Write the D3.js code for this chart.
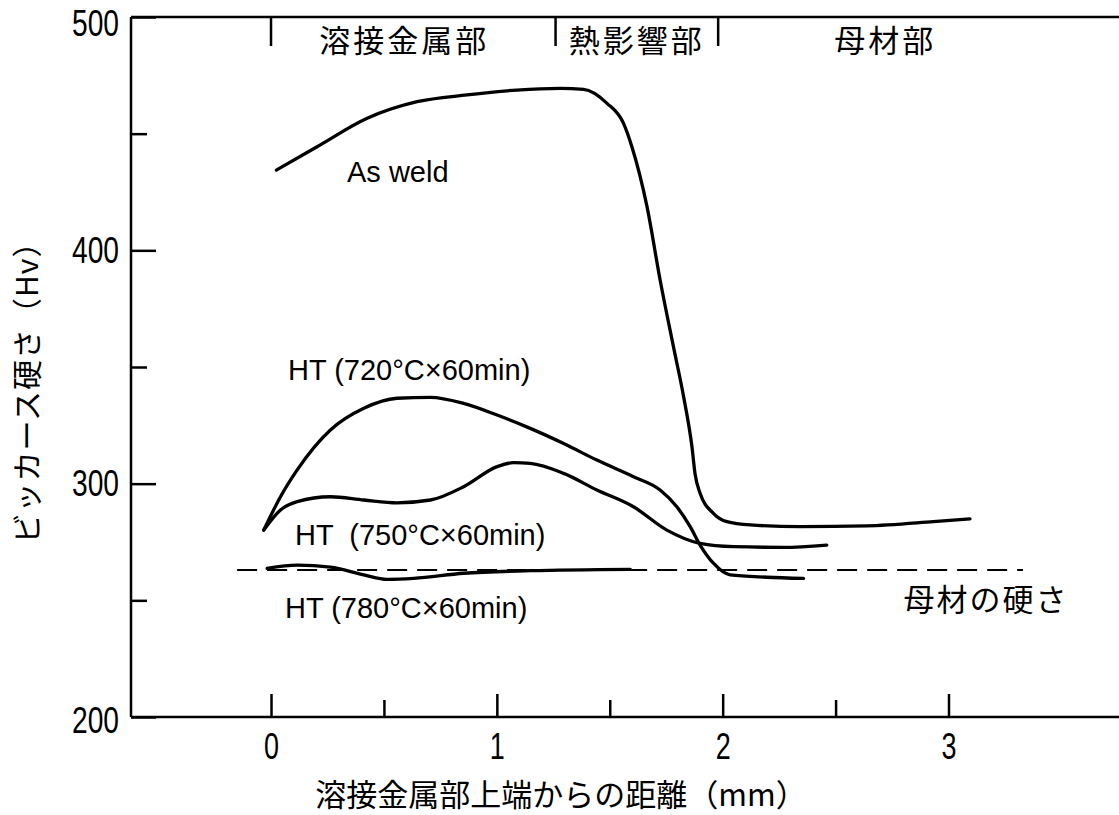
<!DOCTYPE html>
<html>
<head>
<meta charset="utf-8" />
<script src="https://cdn.jsdelivr.net/npm/d3@7"></script>
<style>
    body { margin: 0; background: #fff; }
    .tick text { font-family: "Liberation Sans", sans-serif; font-size: 37px; fill: #000; }
    .tick line { stroke: #000; stroke-width: 2.5; }
    .jp { font-family: "Noto Sans CJK JP", sans-serif; fill: #000; }
    .note { font-family: "Liberation Sans", sans-serif; font-size: 29px; fill: #000; }
    .curve { fill: none; stroke: #000; stroke-width: 3.3; stroke-linejoin: round; stroke-linecap: round; }
</style>
</head>
<body>
<script>
    // values: [distance mm, Hv]
    var asWeld = [[0.024,434.4],[0.204,444.4],[0.426,456.6],[0.647,463.7],[0.868,466.6],[1.089,468.7],
        [1.281,469.4],[1.384,469.0],[1.488,463.0],[1.561,454.4],[1.598,444.4],[1.665,418.7],[1.723,387.3],
        [1.782,358.7],[1.827,337.3],[1.864,315.8],[1.878,304],[1.900,295.9],[1.959,287.3],[2.019,283.7],
        [2.122,282.3],[2.343,281.6],[2.638,281.9],[2.933,283.7],[3.095,284.9]];
    var ht720 = [[-0.032,280.1],[0.042,294.4],[0.116,305.9],[0.263,323.0],[0.411,332.3],[0.558,336.6],
        [0.706,337.0],[0.853,334.4],[1.001,329.4],[1.148,323.7],[1.296,317.2],[1.443,310.1],[1.605,303.0],
        [1.723,297.3],[1.797,290.1],[1.856,281.6],[1.900,273.7],[1.959,265.9],[2.033,260.9],[2.196,259.9],[2.358,259.4]];
    var ht750 = [[-0.032,280.1],[0.042,288.7],[0.116,292.3],[0.263,294.4],[0.411,293.0],[0.558,291.8],
        [0.706,293.0],[0.853,298.7],[1.001,307.3],[1.074,309.0],[1.148,308.7],[1.296,304.4],[1.443,297.3],
        [1.605,290.1],[1.753,280.1],[1.900,274.4],[2.048,273.0],[2.269,272.7],[2.461,273.7]];
    var ht780 = [[-0.017,263.7],[0.116,265.1],[0.263,264.2],[0.411,260.9],[0.514,259.0],[0.632,259.4],
        [0.853,261.6],[1.148,262.7],[1.591,263.3]];
    var baseHardness = 263, baseFrom = -0.15, baseTo = 3.33;

    var xTicks = [0, 1, 2, 3], xMinor = [0.5, 1.5, 2.5];
    var yTicks = [200, 300, 400, 500], yMinor = [250, 350, 450];
    var regionEdges = [0, 1.26, 1.98];
    var regionNames = ["溶接金属部", "熱影響部", "母材部"];
    var regionPos = [0.59, 1.62, 2.72];

    var svgWidth = 1119, svgHeight = 815;
    var x = d3.scaleLinear().domain([-0.62, 3.755]).range([131, 1119]);
    var y = d3.scaleLinear().domain([200, 500]).range([717, 17]);

    var svg = d3.select("body").append("svg")
        .attr("width", svgWidth)
        .attr("height", svgHeight);

    // frame lines: left, bottom, top
    svg.append("line").attr("x1", x(-0.62)).attr("x2", x(-0.62)).attr("y1", y(500)).attr("y2", y(200))
        .attr("stroke", "#000").attr("stroke-width", 2.5);
    svg.append("line").attr("x1", x(-0.62)).attr("x2", x(3.755)).attr("y1", y(200)).attr("y2", y(200))
        .attr("stroke", "#000").attr("stroke-width", 2.5);
    svg.append("line").attr("x1", x(-0.62)).attr("x2", x(3.755)).attr("y1", y(500)).attr("y2", y(500))
        .attr("stroke", "#000").attr("stroke-width", 2.5);

    var xAxis = svg.append("g").attr("transform", "translate(0," + y(200) + ")")
        .call(d3.axisBottom(x).tickValues(xTicks).tickSize(-23).tickPadding(16).tickFormat(d3.format("d")));
    xAxis.select(".domain").remove();
    xAxis.selectAll(".tick text").attr("textLength", 15).attr("lengthAdjust", "spacingAndGlyphs");
    var xAxisMinor = svg.append("g").attr("transform", "translate(0," + y(200) + ")")
        .call(d3.axisBottom(x).tickValues(xMinor).tickSize(-17).tickFormat(""));
    xAxisMinor.select(".domain").remove();

    var yAxis = svg.append("g").attr("transform", "translate(" + x(-0.62) + ",0)")
        .call(d3.axisLeft(y).tickValues(yTicks).tickSize(-25).tickPadding(12));
    yAxis.select(".domain").remove();
    yAxis.selectAll(".tick text")
        .attr("textLength", 47).attr("lengthAdjust", "spacingAndGlyphs")
        .attr("y", function(d) { return d === 500 ? 7 : (d === 200 ? 4 : 0); });
    var yAxisMinor = svg.append("g").attr("transform", "translate(" + x(-0.62) + ",0)")
        .call(d3.axisLeft(y).tickValues(yMinor).tickSize(-16).tickFormat(""));
    yAxisMinor.select(".domain").remove();

    // region marks along the top
    svg.selectAll(".edge").data(regionEdges).enter().append("line")
        .attr("class", "edge")
        .attr("x1", function(d) { return x(d); }).attr("x2", function(d) { return x(d); })
        .attr("y1", y(500)).attr("y2", y(500) + 29)
        .attr("stroke", "#000").attr("stroke-width", 2.5);
    svg.selectAll(".region").data(regionNames).enter().append("text")
        .attr("class", "jp region")
        .attr("x", function(d, i) { return x(regionPos[i]); })
        .attr("y", 52)
        .attr("text-anchor", "middle")
        .attr("font-size", 31)
        .attr("letter-spacing", 3)
        .text(function(d) { return d; });

    // base metal hardness
    svg.append("line")
        .attr("x1", x(baseFrom)).attr("x2", x(baseTo))
        .attr("y1", y(baseHardness)).attr("y2", y(baseHardness))
        .attr("stroke", "#000").attr("stroke-width", 2.2)
        .attr("stroke-dasharray", "20,10");

    var line = d3.line()
        .x(function(d) { return x(d[0]); })
        .y(function(d) { return y(d[1]); })
        .curve(d3.curveMonotoneX);

    [asWeld, ht720, ht750, ht780].forEach(function(s) {
        svg.append("path").attr("class", "curve").attr("d", line(s));
    });

    // curve labels
    svg.append("text").attr("class", "note").attr("x", 347).attr("y", 182).text("As weld");
    svg.append("text").attr("class", "note").attr("x", 288).attr("y", 380).text("HT (720°C×60min)");
    svg.append("text").attr("class", "note").attr("x", 295).attr("y", 545).attr("xml:space", "preserve").text("HT  (750°C×60min)");
    svg.append("text").attr("class", "note").attr("x", 285).attr("y", 618).text("HT (780°C×60min)");
    svg.append("text").attr("class", "jp").attr("x", 986).attr("y", 611)
        .attr("text-anchor", "middle").attr("font-size", 31).attr("letter-spacing", 2).text("母材の硬さ");

    // axis titles
    svg.append("text").attr("class", "jp").attr("x", 561).attr("y", 806)
        .attr("text-anchor", "middle").attr("font-size", 31).text("溶接金属部上端からの距離（mm）");
    svg.append("text").attr("class", "jp")
        .attr("transform", "translate(38,385) rotate(-90)")
        .attr("text-anchor", "middle").attr("font-size", 30).attr("letter-spacing", 1).text("ビッカース硬さ（Hv）");
</script>
</body>
</html>
